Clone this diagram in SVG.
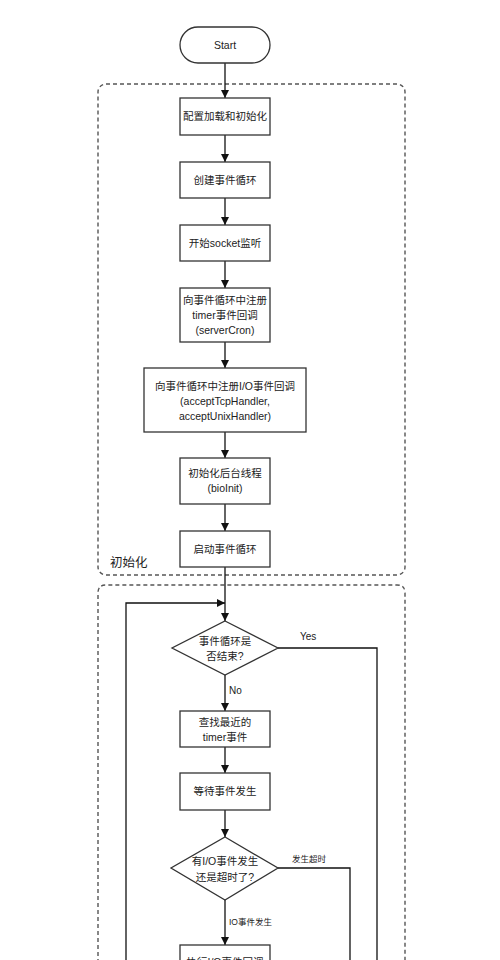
<svg xmlns="http://www.w3.org/2000/svg" width="500" height="960" viewBox="0 0 500 960">
<defs>
<style>
.bg{fill:#fff}
.box{fill:#fff;stroke:#333;stroke-width:1.3}
.grp{fill:none;stroke:#555;stroke-width:1.4;stroke-dasharray:4 3}
.t{font-family:"Liberation Sans","Noto Sans CJK SC",sans-serif;font-size:10.5px;fill:#222;text-anchor:middle}
.lbl{font-family:"Liberation Sans","Noto Sans CJK SC",sans-serif;font-size:10px;fill:#222}
.sm{font-family:"Liberation Sans","Noto Sans CJK SC",sans-serif;font-size:8.5px;fill:#222}
.c{fill:none;stroke:#111;stroke-width:1.3}
</style>
<marker id="ah" viewBox="0 0 10 10" refX="10" refY="5" markerWidth="8" markerHeight="8" markerUnits="userSpaceOnUse" orient="auto">
<path d="M0,0 L10,5 L0,10 z" fill="#111"/>
</marker>
</defs>
<rect class="bg" x="0" y="0" width="500" height="960"/>

<g id="group-init">
<rect class="grp" x="98" y="84" width="307" height="491" rx="8"/>
<text class="lbl" x="110" y="567" style="font-size:12.5px">初始化</text>
</g>
<g id="group-loop">
<path class="grp" d="M98,970 V593 Q98,585 106,585 H397 Q405,585 405,593 V970"/>
</g>

<g id="connectors">
<line class="c" x1="225" y1="63" x2="225" y2="98" marker-end="url(#ah)"/>
<line class="c" x1="225" y1="135" x2="225" y2="162" marker-end="url(#ah)"/>
<line class="c" x1="225" y1="198" x2="225" y2="225" marker-end="url(#ah)"/>
<line class="c" x1="225" y1="261" x2="225" y2="288" marker-end="url(#ah)"/>
<line class="c" x1="225" y1="342" x2="225" y2="368" marker-end="url(#ah)"/>
<line class="c" x1="225" y1="432" x2="225" y2="458" marker-end="url(#ah)"/>
<line class="c" x1="225" y1="504" x2="225" y2="531" marker-end="url(#ah)"/>
<line class="c" x1="225" y1="567" x2="225" y2="621" marker-end="url(#ah)"/>
<polyline class="c" points="126,970 126,603 225,603" marker-end="url(#ah)"/>
<polyline class="c" points="278,648 377,648 377,970"/>
<text class="lbl" x="300" y="640">Yes</text>
<line class="c" x1="225" y1="675" x2="225" y2="711" marker-end="url(#ah)"/>
<text class="lbl" x="229" y="694">No</text>
<line class="c" x1="225" y1="747" x2="225" y2="773" marker-end="url(#ah)"/>
<line class="c" x1="225" y1="810" x2="225" y2="837" marker-end="url(#ah)"/>
<polyline class="c" points="278,868 350,868 350,970"/>
<text class="sm" x="292" y="862">发生超时</text>
<line class="c" x1="225" y1="900" x2="225" y2="945" marker-end="url(#ah)"/>
<text class="sm" x="229" y="925">IO事件发生</text>
</g>

<g id="start">
<rect class="box" x="180" y="27" width="90" height="36" rx="18"/>
<text class="t" x="225" y="49">Start</text>
</g>
<g id="n1">
<rect class="box" x="180" y="98" width="90" height="37"/>
<text class="t" x="225" y="120">配置加载和初始化</text>
</g>
<g id="n2">
<rect class="box" x="180" y="162" width="90" height="36"/>
<text class="t" x="225" y="184">创建事件循环</text>
</g>
<g id="n3">
<rect class="box" x="180" y="225" width="90" height="36"/>
<text class="t" x="225" y="247">开始socket监听</text>
</g>
<g id="n4">
<rect class="box" x="180" y="288" width="90" height="54"/>
<text class="t" x="225" y="304">向事件循环中注册</text>
<text class="t" x="225" y="319">timer事件回调</text>
<text class="t" x="225" y="334">(serverCron)</text>
</g>
<g id="n5">
<rect class="box" x="144" y="368" width="162" height="64"/>
<text class="t" x="225" y="390">向事件循环中注册I/O事件回调</text>
<text class="t" x="225" y="405">(acceptTcpHandler,</text>
<text class="t" x="225" y="420">acceptUnixHandler)</text>
</g>
<g id="n6">
<rect class="box" x="180" y="458" width="90" height="46"/>
<text class="t" x="225" y="477">初始化后台线程</text>
<text class="t" x="225" y="492">(bioInit)</text>
</g>
<g id="n7">
<rect class="box" x="180" y="531" width="90" height="36"/>
<text class="t" x="225" y="553">启动事件循环</text>
</g>
<g id="d1">
<polygon class="box" points="225,621 278,648 225,675 172,648"/>
<text class="t" x="225" y="645">事件循环是</text>
<text class="t" x="225" y="660">否结束?</text>
</g>
<g id="n8">
<rect class="box" x="180" y="711" width="90" height="36"/>
<text class="t" x="225" y="726">查找最近的</text>
<text class="t" x="225" y="741">timer事件</text>
</g>
<g id="n9">
<rect class="box" x="180" y="773" width="90" height="37"/>
<text class="t" x="225" y="795">等待事件发生</text>
</g>
<g id="d2">
<polygon class="box" points="225,837 278,868 225,900 171,868"/>
<text class="t" x="225" y="865">有I/O事件发生</text>
<text class="t" x="225" y="881">还是超时了?</text>
</g>
<g id="n10">
<rect class="box" x="180" y="945" width="90" height="40"/>
<text class="t" x="225" y="966">执行I/O事件回调</text>
</g>
</svg>
